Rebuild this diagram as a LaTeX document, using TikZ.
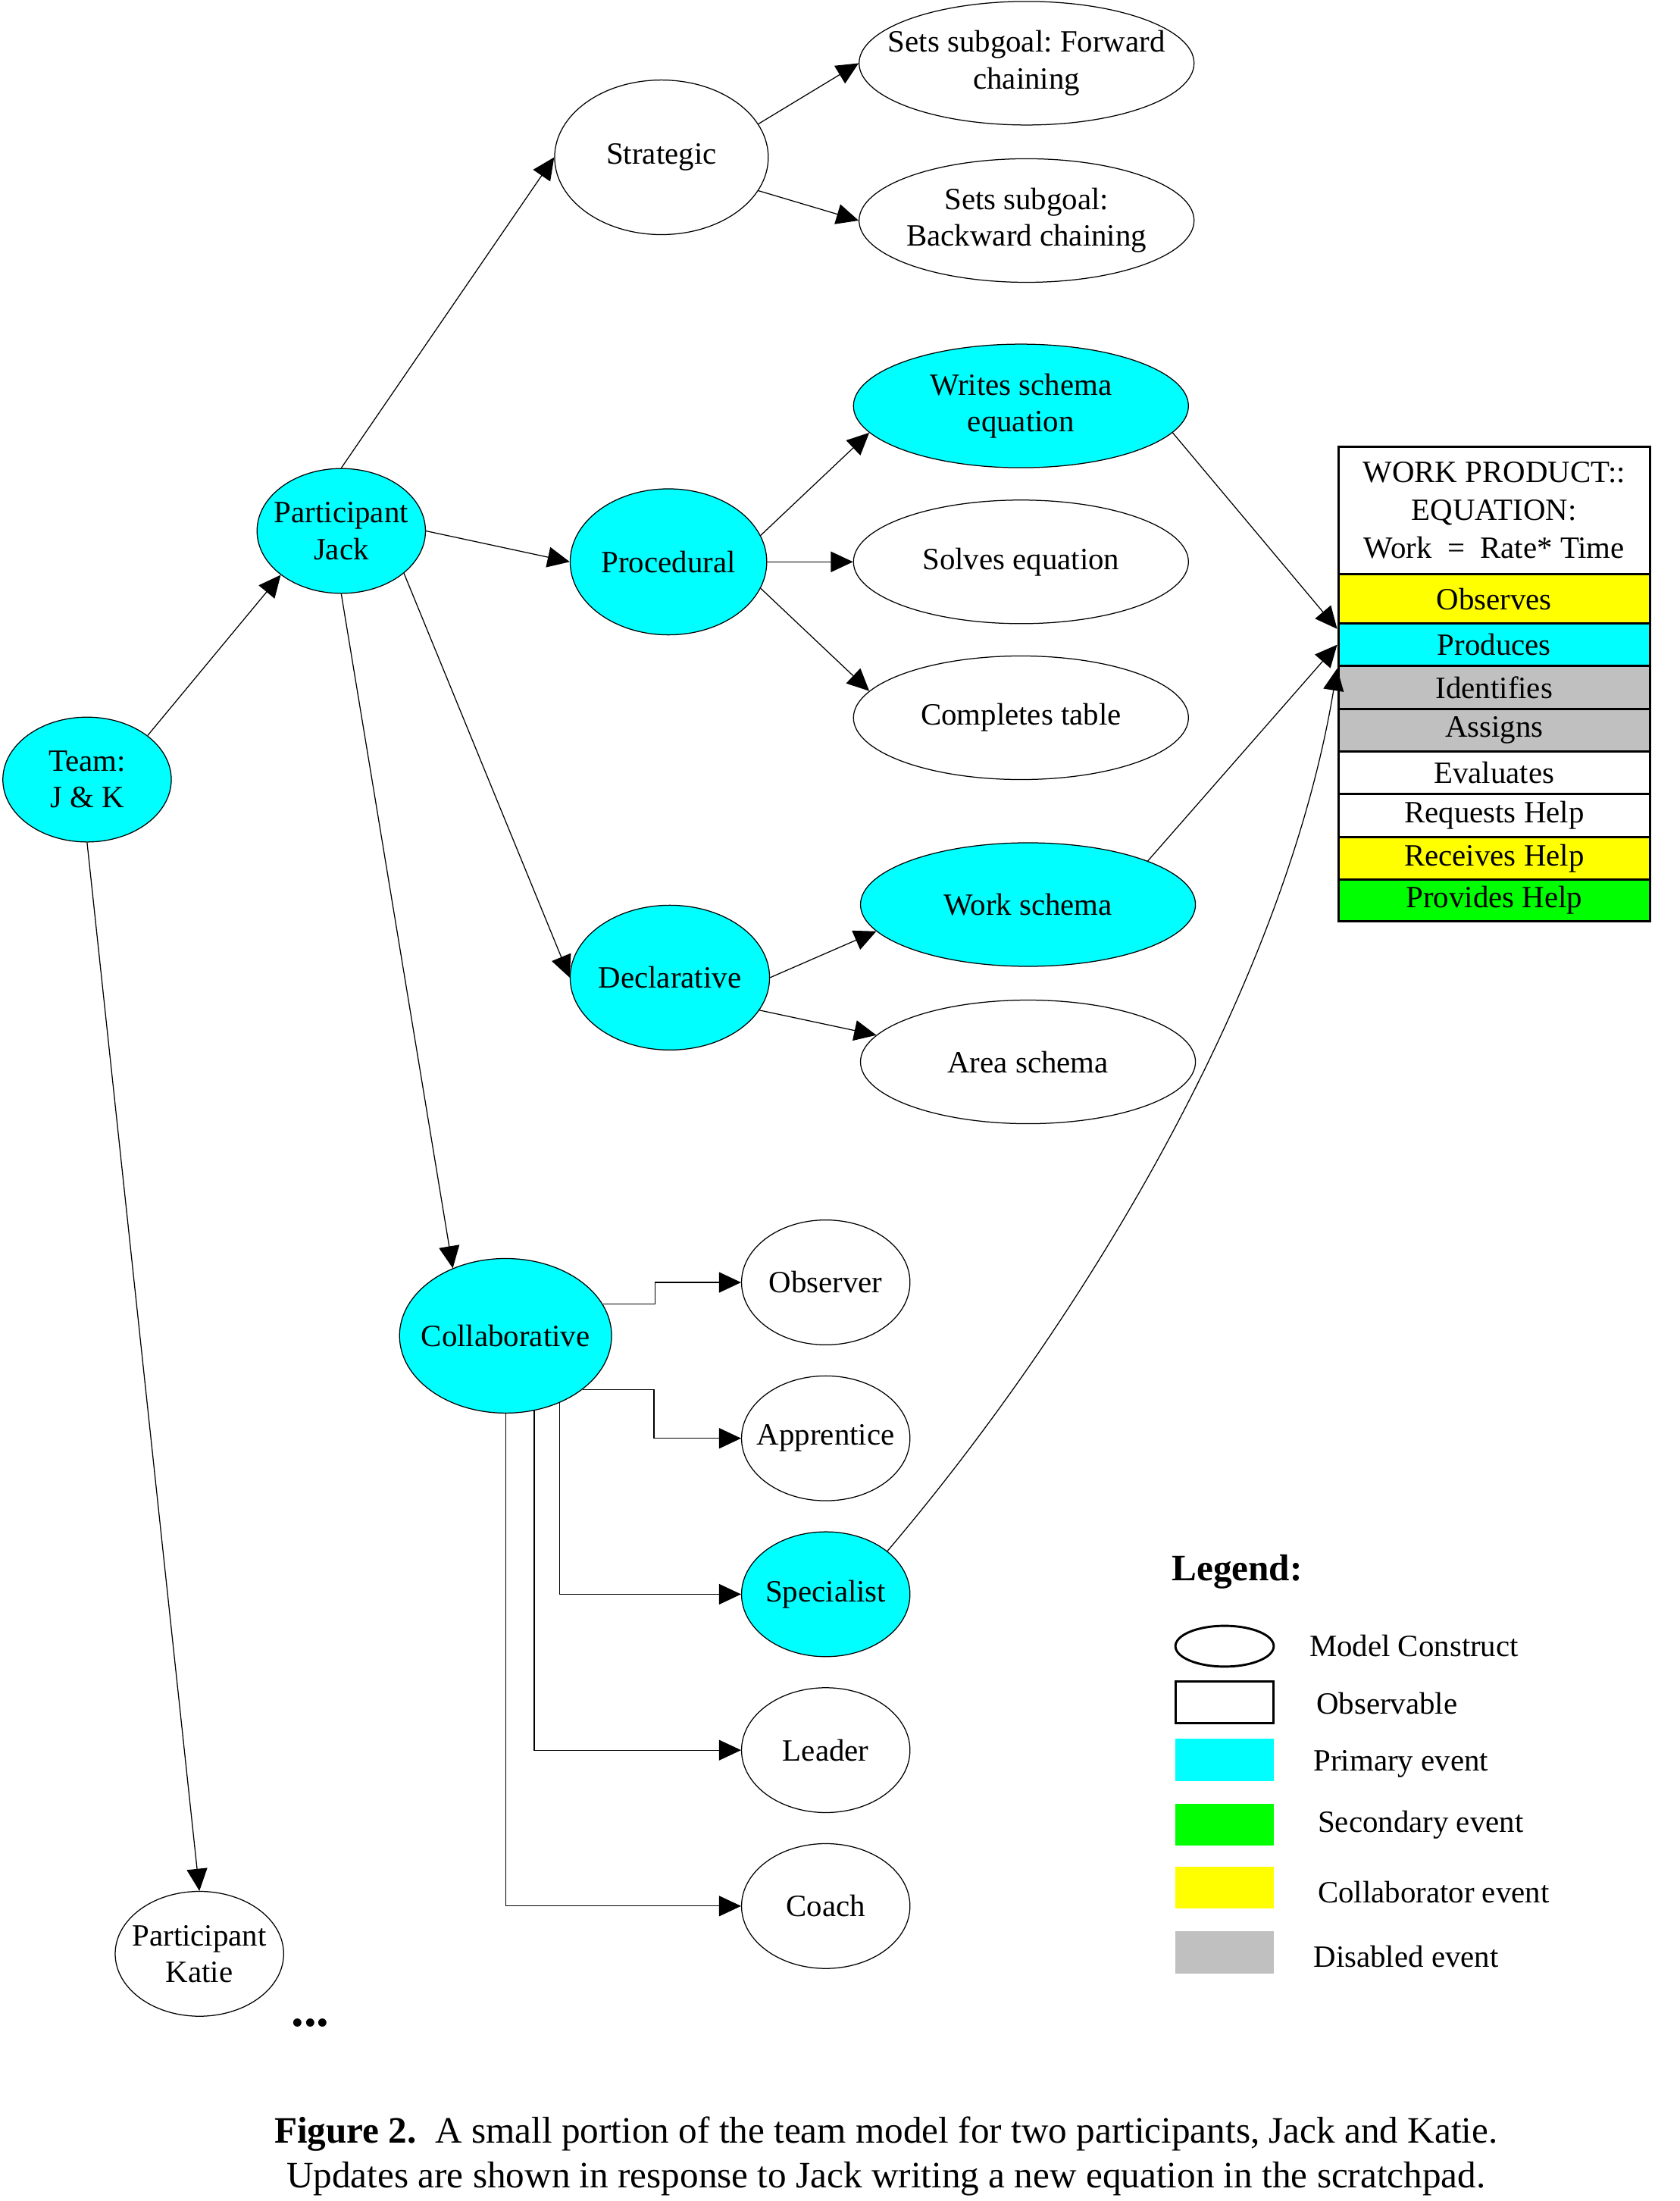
\documentclass[tikz,border=0pt]{standalone}
\usepackage{fontspec}
\setmainfont{Liberation Serif}
\usetikzlibrary{shapes.geometric,arrows.meta}
\frenchspacing

\definecolor{primcol}{RGB}{0,255,255}
\definecolor{seccol}{RGB}{0,255,0}
\definecolor{collcol}{RGB}{255,255,0}
\definecolor{discol}{RGB}{192,192,192}

\tikzset{
	construct/.style={ellipse, draw, line width=0.3pt, inner sep=-30pt, align=center, font=\fontsize{9.8}{11.6}\selectfont},
	small/.style={construct, minimum width=53.3pt, minimum height=39.5pt},
	wide/.style={construct, minimum width=106pt, minimum height=39.1pt},
	primary/.style={fill=primcol},
	link/.style={line width=0.3pt, -{Triangle[length=7pt,width=6.5pt]}},
	row/.style={draw, line width=0.7pt, minimum width=98.7pt, inner sep=0pt, align=center, font=\fontsize{9.8}{12}\selectfont},
	swatch/.style={minimum width=31.1pt, minimum height=13.3pt, inner sep=0pt},
	key/.style={anchor=west, inner sep=0pt, font=\fontsize{9.8}{12}\selectfont}
}

\begin{document}
\begin{tikzpicture}[x=0.4444pt, y=-0.4444pt]
	\useasboundingbox (0,0) rectangle (1196,1567);

	% team and participants
	\node[small, primary] (team) at (62,555) {Team:\\J \& K};
	\node[small, primary] (jack) at (243,378) {Participant\\Jack};
	\node[small] (katie) at (142,1391) {Participant\\Katie};
	\node (more) at (221,1440) {\fontsize{16}{16}\bfseries ...};

	% constructs of Jack
	\node[construct, minimum width=67.6pt, minimum height=48.9pt] (strat) at (471,112) {Strategic};
	\node[construct, primary, minimum width=62.2pt, minimum height=46.2pt] (proc) at (476,400) {Procedural};
	\node[construct, primary, minimum width=63.1pt, minimum height=45.8pt] (decl) at (477,696) {Declarative};
	\node[construct, primary, minimum width=67.1pt, minimum height=48.9pt] (collab) at (360,951) {Collaborative};

	\node[wide] (fwd) at (731,45) {Sets subgoal: Forward\\chaining};
	\node[wide] (bwd) at (731,157) {Sets subgoal:\\Backward chaining};
	\node[wide, primary] (writes) at (727,289) {Writes schema\\equation};
	\node[wide] (solves) at (727,400) {Solves equation};
	\node[wide] (completes) at (727,511) {Completes table};
	\node[wide, primary] (work) at (732,644) {Work schema};
	\node[wide] (area) at (732,756) {Area schema};

	\node[small] (obs) at (588,913) {Observer};
	\node[small] (app) at (588,1024) {Apprentice};
	\node[small, primary] (spec) at (588,1135) {Specialist};
	\node[small] (leader) at (588,1246) {Leader};
	\node[small] (coach) at (588,1357) {Coach};

	% work product table
	\node[row, minimum height=40.4pt] (product) at (1064,363.5) {WORK PRODUCT::\\EQUATION:\\Work\ \ =\ \ Rate* Time};
	\node[row, fill=collcol, minimum height=15.6pt] (observes) at (1064,426.5) {Observes};
	\node[row, fill=primcol, minimum height=13.3pt] (produces) at (1064,459) {Produces};
	\node[row, fill=discol, minimum height=13.8pt] (identifies) at (1064,489.5) {Identifies};
	\node[row, fill=discol, minimum height=13.3pt] (assigns) at (1064,520) {Assigns};
	\node[row, minimum height=13.3pt] (evaluates) at (1064,550) {Evaluates};
	\node[row, minimum height=13.8pt] (requests) at (1064,580.5) {Requests Help};
	\node[row, fill=collcol, minimum height=13.3pt] (receives) at (1064,611) {Receives Help};
	\node[row, fill=seccol, minimum height=13.3pt] (provides) at (1064,641) {Provides Help};

	% links
	\draw[link] (team.36) -- (jack.216);
	\draw[link] (team.south) -- (katie.north);
	\draw[link] (jack.north) -- (strat.west);
	\draw[link] (jack.east) -- (proc.west);
	\draw[link] (jack.-34) -- (decl.west);
	\draw[link] (jack.south) -- (collab.128);
	\draw[link] (strat.19) -- (fwd.west);
	\draw[link] (strat.-19) -- (bwd.west);
	\draw[link] (proc.16) -- (writes.190);
	\draw[link] (proc.east) -- (solves.west);
	\draw[link] (proc.-16) -- (completes.170);
	\draw[link] (decl.east) -- (work.190);
	\draw[link] (decl.-20) -- (area.170);
	\draw[link] (collab.18) -- ++(37,0) |- (obs.west);
	\draw[link] (collab.-35) -- ++(51,0) |- (app.west);
	\draw[link] (collab.-51) |- (spec.west);
	\draw[link] (collab.-69) |- (leader.west);
	\draw[link] (collab.south) |- (coach.west);
	\draw[link] (writes.-10) -- ([yshift=5pt]produces.west);
	\draw[link] (work.20) -- (produces.west);
	\draw[link] (spec.35) .. controls (774,937) and (915,700) .. ([yshift=-7.5pt]produces.west);

	% legend
	\node[anchor=west, inner sep=0pt, font=\fontsize{11.8}{14}\selectfont\bfseries] (legend) at (834,1119) {Legend:};
	\node[ellipse, draw, line width=0.7pt, minimum width=31.1pt, minimum height=12.9pt, inner sep=0pt] (kconstruct) at (872,1172) {};
	\node[swatch, draw, line width=0.7pt] (kobservable) at (872,1212) {};
	\node[swatch, fill=primcol] (kprimary) at (872,1253) {};
	\node[swatch, fill=seccol] (ksecondary) at (872,1299) {};
	\node[swatch, fill=collcol] (kcollab) at (872,1344) {};
	\node[swatch, fill=discol] (kdisabled) at (872,1390) {};
	\node[key] at (932,1172) {Model Construct};
	\node[key] at (937,1213) {Observable};
	\node[key] at (935,1256) {Primary event};
	\node[key] at (938,1299) {Secondary event};
	\node[key] at (938,1347) {Collaborator event};
	\node[key] at (935,1393) {Disabled event};

	% caption
	\node[align=center, inner sep=0pt, font=\fontsize{11.8}{14.2}\selectfont] (caption) at (631,1535)
		{\textbf{Figure 2.}\ \ A small portion of the team model for two participants, Jack and Katie.\\Updates are shown in response to Jack writing a new equation in the scratchpad.};
\end{tikzpicture}
\end{document}
